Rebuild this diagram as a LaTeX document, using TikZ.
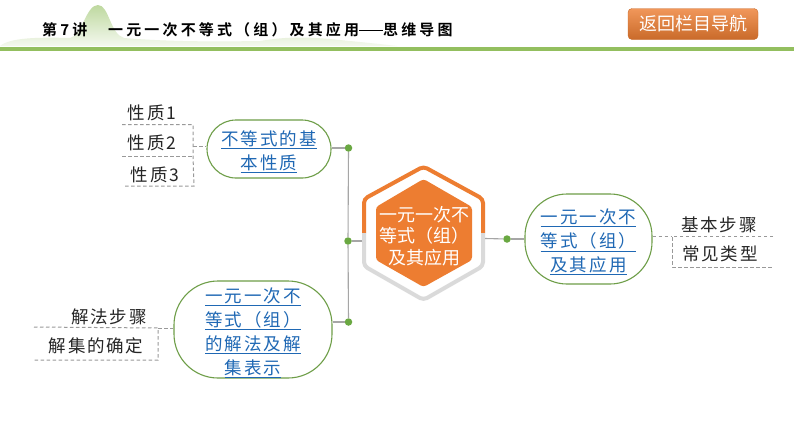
\documentclass[tikz,border=0pt]{standalone}
\usepackage{fontspec}
\usepackage{tikz}
\usetikzlibrary{positioning}
\setmainfont{Noto Sans CJK SC}
\newfontfamily\cjk[LetterSpace=12]{Noto Sans CJK SC}
\newfontfamily\cjkleaf[LetterSpace=10]{Noto Sans CJK SC}
\newfontfamily\cjktitle[LetterSpace=21,BoldFont={Noto Sans CJK SC Bold}]{Noto Sans CJK SC}
\newcommand{\ul}[1]{\underline{#1}}
\newcommand{\ovaltop}[1]{\rule{0pt}{#1}}
\definecolor{linkblue}{HTML}{1F68B4}
\definecolor{ovalgreen}{HTML}{6E9E48}
\definecolor{dotgreen}{HTML}{6AA842}
\definecolor{hexorange}{HTML}{ED7D31}
\definecolor{hexgrey}{HTML}{DADADA}
\definecolor{linkgrey}{HTML}{A6A6A6}
\definecolor{dashgrey}{HTML}{999999}
\definecolor{barsgreen}{HTML}{93BF5F}
\tikzset{
  oval/.style={draw=ovalgreen, line width=1.1pt, fill=white, text=linkblue, align=center, inner sep=0pt, font=\cjk\fontsize{17.5}{24}\selectfont},
  leaf/.style={inner sep=0pt, text=black!85, font=\cjkleaf\fontsize{17.5}{22}\selectfont},
  knot/.style={circle, fill=dotgreen, inner sep=0pt, minimum size=7.5pt},
  link/.style={draw=linkgrey, line width=1.1pt},
  dashlink/.style={draw=dashgrey, line width=1pt, dash pattern=on 3.5pt off 2.5pt},
  headline/.style={anchor=west, inner sep=0pt, font=\cjktitle\bfseries\fontsize{15}{16}\selectfont},
}
\begin{document}
\begin{tikzpicture}[x=1pt, y=-1pt, on grid]
  \useasboundingbox (0,0) rectangle (794,447);
  \fill[white] (0,0) rectangle (794,447);
  % header
  \path[top color=barsgreen!60!white, bottom color=barsgreen!10!white]
    (0,46) .. controls (10,38) and (35,37) .. (70,38) .. controls (82,36) and (86,5) .. (98,5)
    .. controls (109,5) and (110,34) .. (124,38) .. controls (160,41) and (200,42) .. (260,41)
    .. controls (290,36) and (310,37) .. (340,40) .. controls (360,42) and (380,44) .. (397,46) -- cycle;
  \fill[barsgreen] (0,46.5) rectangle (794,51);
  \node[headline] (T) at (42,30) {第7讲};
  \node[headline, right=66pt of T.west] (U) {一元一次不等式（组）及其应用\rule[4.8pt]{24pt}{1.4pt}思维导图};
  \node[draw=hexorange!85!black, top color=hexorange!80!white, bottom color=hexorange!85!black, rounded corners=4pt, minimum width=130pt, minimum height=31pt, inner sep=0pt, text=white, font=\fontsize{18}{20}\selectfont] (B) at (693,24) {返回栏目导航};
  % hexagon
  \draw[draw=hexorange, line width=4pt, rounded corners=4pt] (364,233) -- (364,199) -- (423.5,166.5) -- (483,199) -- (483,233);
  \draw[draw=hexgrey, line width=4pt, rounded corners=4pt] (364,233) -- (364,266) -- (423.5,300) -- (483,266) -- (483,233);
  \fill[hexorange, rounded corners=3pt] (376,207) -- (423.5,179) -- (472,207) -- (472,260) -- (423.5,287) -- (376,260) -- cycle;
  \coordinate (E) at (362,241);
  \coordinate (F) at (485,238.5);
  \node[align=center, inner sep=0pt, text=white, font=\fontsize{18}{21.5}\selectfont] (C) at (424,236) {一元一次不\\等式（组）\\及其应用};
  % branches
  \node[oval, rounded corners=29pt, minimum width=124pt, minimum height=58pt, above left=87pt and 155pt of C] (N) {\ovaltop{21pt}\ul{不等式的基}\\\ul{本性质}};
  \node[oval, rounded corners=44pt, minimum width=158pt, minimum height=97pt, below left=93.5pt and 171pt of C] (L) {\ovaltop{21pt}\ul{一元一次不}\\\ul{等式（组）}\\\ul{的解法及解}\\\ul{集表示}};
  \node[oval, rounded corners=42pt, minimum width=127pt, minimum height=90pt, below right=3pt and 164.5pt of C] (R) {\ovaltop{21pt}\ul{一元一次不}\\\ul{等式（组）}\\\ul{及其应用}};
  \node[knot, above right=1pt and 79.5pt of N] (a) {};
  \node[knot, above right=7.5pt and 95.5pt of L] (b) {};
  \node[knot, below left=5pt and 76pt of C] (c) {};
  \node[knot, left=81.5pt of R] (d) {};
  \draw[link] (N.east |- a) -- (a);
  \draw[link] (a) -- (c) -- (b);
  \draw[link] (L.east |- b) -- (b);
  \draw[link] (E) -- (c);
  \draw[link] (F) -- (d);
  \draw[link] (d) -- (R);
  % leaves, left top
  \node[leaf] (p) at (152,113) {性质1};
  \node[leaf, below=30pt of p] (q) {性质2};
  \node[leaf, below right=62pt and 3pt of p] (r) {性质3};
  \coordinate (p1) at (122,124.5);
  \coordinate (p2) at (193,124.5);
  \coordinate (q1) at (122,156);
  \coordinate (q2) at (193,156);
  \coordinate (r1) at (123,186);
  \coordinate (r2) at (194,186);
  \coordinate (s) at (193,146);
  \draw[dashlink] (p1) -- (p2) -- (q2) -- (r2) -- (r1);
  \draw[dashlink] (q1) -- (q2);
  \draw[dashlink] (s) -- (N.west |- s);
  % leaves, right
  \node[leaf] (g) at (719,225) {基本步骤};
  \node[leaf, below right=29pt and 1pt of g] (h) {常见类型};
  \coordinate (g1) at (672,236);
  \coordinate (g2) at (773,236);
  \coordinate (h1) at (672,267);
  \coordinate (h2) at (773,267);
  \draw[dashlink] (g2) -- (g1) -- (h1) -- (h2);
  \draw[dashlink] (R.east |- g1) -- (g1);
  % leaves, bottom
  \node[leaf] (j) at (109,317) {解法步骤};
  \node[leaf, below left=29pt and 13pt of j] (k) {解集的确定};
  \coordinate (j1) at (34,327);
  \coordinate (j2) at (158,328);
  \coordinate (k1) at (34,360);
  \coordinate (k2) at (158,360);
  \draw[dashlink] (j1) -- (j2) -- (k2) -- (k1);
  \draw[dashlink] (j2) -- (L.west |- j2);
\end{tikzpicture}
\end{document}
